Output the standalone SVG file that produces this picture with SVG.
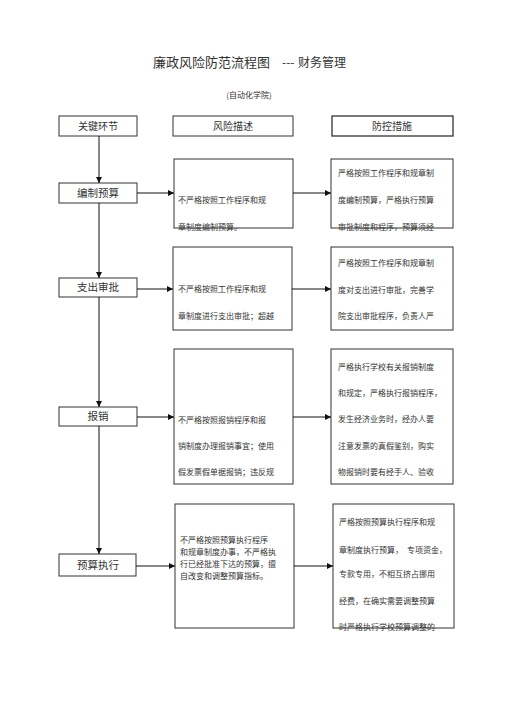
<svg xmlns="http://www.w3.org/2000/svg" width="505" height="714" viewBox="0 0 505 714">
<defs>
<marker id="ah" viewBox="0 0 10 10" refX="10" refY="5" markerWidth="6" markerHeight="6" orient="auto" markerUnits="userSpaceOnUse">
<path d="M0,0 L10,5 L0,10 z" fill="#111"/>
</marker>
<style>
text{font-family:"Noto Sans CJK SC","Liberation Serif",serif;fill:#333}
.box{fill:#fff;stroke:#333;stroke-width:1}
.hd{font-size:10px;text-anchor:middle}
.key{font-size:10.5px;text-anchor:middle}
.t{font-size:8px}
.c{fill:none;stroke:#111;stroke-width:1}
</style>
</defs>
<rect width="505" height="714" fill="#fff"/>
<text x="153" y="67" style="font-size:13px">廉政风险防范流程图</text>
<text x="282" y="67" style="font-size:12px">---</text>
<text x="298" y="67" style="font-size:12px">财务管理</text>
<text x="249" y="98" style="font-size:8px" text-anchor="middle">(自动化学院)</text>

<g id="h1"><rect class="box" x="59" y="116" width="78" height="20"/><text class="hd" x="98" y="130">关键环节</text></g>
<g id="h2"><rect class="box" x="173" y="116" width="120" height="20"/><text class="hd" x="233" y="130">风险描述</text></g>
<g id="h3"><rect class="box" x="332" y="116" width="121" height="20" style="stroke-width:1.3"/><text class="hd" x="392" y="130">防控措施</text></g>

<g id="k1"><rect class="box" x="59" y="183" width="78" height="20"/><text class="key" x="98" y="197">编制预算</text></g>
<g id="r1"><rect class="box" x="174" y="159" width="119" height="69"/>
<text class="t" x="178" y="203">不严格按照工作程序和规</text><text class="t" x="178" y="230">章制度编制预算。</text></g>
<g id="m1"><rect class="box" x="331" y="159" width="122" height="69"/>
<text class="t" x="338" y="176">严格按照工作程序和规章制</text><text class="t" x="338" y="203">度编制预算，严格执行预算</text><text class="t" x="338" y="230">审批制度和程序，预算须经</text></g>

<g id="k2"><rect class="box" x="59" y="278" width="78" height="19"/><text class="key" x="98" y="291">支出审批</text></g>
<g id="r2"><rect class="box" x="173" y="247" width="119" height="83"/>
<text class="t" x="178" y="292">不严格按照工作程序和规</text><text class="t" x="178" y="319">章制度进行支出审批；超越</text></g>
<g id="m2"><rect class="box" x="331" y="247" width="122" height="83"/>
<text class="t" x="338" y="266">严格按照工作程序和规章制</text><text class="t" x="338" y="293">度对支出进行审批，完善学</text><text class="t" x="338" y="319">院支出审批程序，负责人严</text></g>

<g id="k3"><rect class="box" x="59" y="407" width="78" height="19"/><text class="key" x="98" y="420">报销</text></g>
<g id="r3"><rect class="box" x="174" y="349" width="119" height="135"/>
<text class="t" x="178" y="423">不严格按照报销程序和报</text><text class="t" x="178" y="449">销制度办理报销事宜；使用</text><text class="t" x="178" y="475">假发票假单据报销；违反规</text></g>
<g id="m3"><rect class="box" x="331" y="349" width="122" height="135"/>
<text class="t" x="338" y="370">严格执行学校有关报销制度</text><text class="t" x="338" y="396">和规定，严格执行报销程序，</text><text class="t" x="338" y="422">发生经济业务时，经办人要</text><text class="t" x="338" y="449">注意发票的真假鉴别，购实</text><text class="t" x="338" y="475">物报销时要有经手人、验收</text></g>

<g id="k4"><rect class="box" x="59" y="554" width="77" height="22"/><text class="key" x="98" y="569">预算执行</text></g>
<g id="r4"><rect class="box" x="175" y="504" width="119" height="124"/>
<text class="t" x="180" y="543">不严格按照预算执行程序</text><text class="t" x="180" y="555">和规章制度办事，不严格执</text><text class="t" x="180" y="567">行已经批准下达的预算，擅</text><text class="t" x="180" y="579">自改变和调整预算指标。</text></g>
<g id="m4"><rect class="box" x="333" y="504" width="121" height="124"/>
<text class="t" x="339" y="525">严格按照预算执行程序和规</text><text class="t" x="339" y="553">章制度执行预算，　专项资金，</text><text class="t" x="339" y="577">专款专用，不相互挤占挪用</text><text class="t" x="339" y="604">经费，在确实需要调整预算</text><text class="t" x="339" y="630">时严格执行学校预算调整的</text></g>

<g id="connectors">
<line class="c" x1="99" y1="136" x2="99" y2="183" marker-end="url(#ah)"/>
<line class="c" x1="99" y1="203" x2="99" y2="278" marker-end="url(#ah)"/>
<line class="c" x1="99" y1="297" x2="99" y2="407" marker-end="url(#ah)"/>
<line class="c" x1="99" y1="426" x2="99" y2="554" marker-end="url(#ah)"/>
<line class="c" x1="137" y1="193" x2="174" y2="193" marker-end="url(#ah)"/>
<line class="c" x1="293" y1="193" x2="331" y2="193" marker-end="url(#ah)"/>
<line class="c" x1="137" y1="289" x2="173" y2="289" marker-end="url(#ah)"/>
<line class="c" x1="292" y1="289" x2="331" y2="289" marker-end="url(#ah)"/>
<line class="c" x1="137" y1="417" x2="174" y2="417" marker-end="url(#ah)"/>
<line class="c" x1="293" y1="417" x2="331" y2="417" marker-end="url(#ah)"/>
<line class="c" x1="136" y1="566" x2="175" y2="566" marker-end="url(#ah)"/>
<line class="c" x1="294" y1="566" x2="333" y2="566" marker-end="url(#ah)"/>
</g>
</svg>
